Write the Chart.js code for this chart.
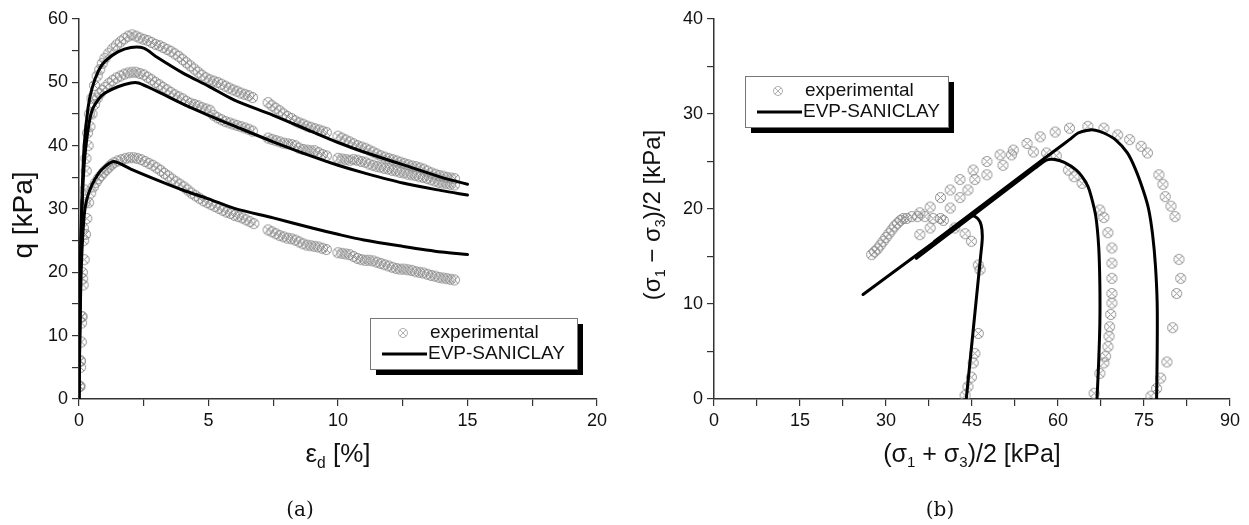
<!DOCTYPE html>
<html>
<head>
<meta charset="utf-8">
<script src="https://cdn.jsdelivr.net/npm/chart.js"></script>
<style>
html, body { margin: 0; padding: 0; background: #fff; }
#wrap { position: relative; width: 1249px; height: 525px; }
#left { position: absolute; left: 0; top: 0; }
#right { position: absolute; left: 625px; top: 0; }
</style>
</head>
<body>
<div id="wrap">
  <canvas id="left" width="625" height="525"></canvas>
  <canvas id="right" width="624" height="525"></canvas>
</div>
<script>
// (a) q vs eps_d : experimental points [eps, q]
const expTop = [[0.02,2],[0.05,6],[0.1,13],[0.13,20],[0.17,27],[0.22,33],[0.27,38],[0.33,42],[0.4,45],[0.5,47.5],[0.6,49.5],[0.7,51],[0.8,52],[0.9,53],[1.0,53.8],[1.15,54.6],[1.3,55.3],[1.45,55.9],[1.6,56.4],[1.75,56.9],[1.9,57.3],[2.05,57.5],[2.2,57.3],[2.35,57.0],[2.5,56.8],[2.65,56.6],[2.8,56.3],[2.95,56.0],[3.1,55.8],[3.25,55.5],[3.4,55.2],[3.55,54.9],[3.7,54.5],[3.85,54.1],[4.0,53.6],[4.15,53.1],[4.3,52.6],[4.45,52.1],[4.6,51.6],[4.75,51.1],[4.9,50.7],[5.05,50.4],[5.2,50.2],[5.35,50.0],[5.5,49.7],[5.65,49.4],[5.8,49.1],[5.95,48.8],[6.1,48.6],[6.25,48.3],[6.4,48.1],[6.55,47.9],[6.7,47.6],[7.3,46.8],[7.45,46.3],[7.6,45.9],[7.75,45.5],[7.9,45.0],[8.05,44.6],[8.2,44.3],[8.35,43.9],[8.5,43.6],[8.65,43.4],[8.8,43.1],[8.95,42.9],[9.1,42.7],[9.25,42.5],[9.4,42.3],[9.55,42.1],[10.0,41.5],[10.15,41.2],[10.3,40.9],[10.45,40.6],[10.6,40.3],[10.75,40.0],[10.9,39.8],[11.05,39.6],[11.2,39.3],[11.35,39.0],[11.5,38.7],[11.65,38.4],[11.8,38.2],[11.95,38.0],[12.1,37.8],[12.25,37.6],[12.4,37.4],[12.55,37.2],[12.7,37.0],[12.85,36.8],[13.0,36.7],[13.15,36.5],[13.3,36.3],[13.45,36.0],[13.6,35.7],[13.75,35.5],[13.9,35.3],[14.05,35.2],[14.2,35.0],[14.35,34.9],[14.5,34.8]];
const expMid = [[0.03,2],[0.06,6],[0.1,12],[0.14,19],[0.18,25],[0.23,31],[0.28,36],[0.35,40],[0.42,43],[0.5,45],[0.6,46.5],[0.7,47.5],[0.8,48.2],[0.9,48.7],[1.0,49.2],[1.15,49.8],[1.3,50.3],[1.45,50.7],[1.6,51.0],[1.75,51.3],[1.9,51.5],[2.05,51.6],[2.2,51.6],[2.35,51.4],[2.5,51.2],[2.65,50.8],[2.8,50.4],[2.95,50.0],[3.1,49.6],[3.25,49.2],[3.4,48.8],[3.55,48.4],[3.7,48.0],[3.85,47.7],[4.0,47.4],[4.15,47.0],[4.3,46.7],[4.45,46.5],[4.6,46.3],[4.75,46.0],[4.9,45.8],[5.05,45.6],[5.2,44.8],[5.35,44.4],[5.5,44.1],[5.65,43.8],[5.8,43.6],[5.95,43.4],[6.1,43.2],[6.25,43.0],[6.4,42.8],[6.55,42.6],[6.7,42.3],[7.3,41.2],[7.45,41.0],[7.6,40.8],[7.75,40.6],[7.9,40.4],[8.05,40.3],[8.2,40.2],[8.35,40.0],[8.5,39.6],[8.65,39.4],[8.8,39.3],[8.95,39.2],[9.1,39.2],[9.25,38.9],[9.4,38.6],[9.55,38.4],[10.0,38.0],[10.15,37.9],[10.3,37.8],[10.45,37.7],[10.6,37.8],[10.75,37.7],[10.9,37.5],[11.05,37.4],[11.2,37.1],[11.35,36.9],[11.5,36.7],[11.65,36.6],[11.8,36.4],[11.95,36.3],[12.1,36.1],[12.25,36.0],[12.4,35.8],[12.55,35.7],[12.7,35.5],[12.85,35.4],[13.0,35.3],[13.15,35.1],[13.3,35.0],[13.45,34.8],[13.6,34.6],[13.75,34.4],[13.9,34.2],[14.05,34.1],[14.2,34.0],[14.35,33.9],[14.5,33.8]];
const expLow = [[0.03,2],[0.06,5],[0.09,9],[0.12,13],[0.16,18],[0.2,22],[0.25,26],[0.3,28.5],[0.37,31],[0.45,32.5],[0.55,33.5],[0.65,34.2],[0.75,34.8],[0.85,35.3],[0.95,35.8],[1.05,36.2],[1.15,36.6],[1.25,37.0],[1.35,37.3],[1.5,37.6],[1.65,37.8],[1.8,38.0],[1.95,38.1],[2.1,38.1],[2.25,38.0],[2.4,37.8],[2.55,37.5],[2.7,37.2],[2.85,36.9],[3.0,36.5],[3.15,36.1],[3.3,35.6],[3.45,35.2],[3.6,34.7],[3.75,34.3],[3.9,33.9],[4.05,33.5],[4.2,33.0],[4.35,32.5],[4.5,32.1],[4.65,31.7],[4.8,31.3],[4.95,31.0],[5.1,30.7],[5.25,30.4],[5.4,30.1],[5.55,29.8],[5.7,29.5],[5.85,29.3],[6.0,29.0],[6.15,28.8],[6.3,28.6],[6.45,28.3],[6.6,28.0],[6.75,27.7],[7.3,26.7],[7.45,26.4],[7.6,26.1],[7.75,25.8],[7.9,25.6],[8.05,25.4],[8.2,25.3],[8.35,25.1],[8.5,24.8],[8.65,24.5],[8.8,24.3],[8.95,24.2],[9.1,24.1],[9.25,24.0],[9.4,23.8],[9.55,23.6],[10.0,23.1],[10.15,23.0],[10.3,22.9],[10.45,22.8],[10.6,22.5],[10.75,22.2],[10.9,22.0],[11.05,21.9],[11.2,21.9],[11.35,21.8],[11.5,21.6],[11.65,21.4],[11.8,21.2],[11.95,21.0],[12.1,20.8],[12.25,20.6],[12.4,20.5],[12.55,20.5],[12.7,20.4],[12.85,20.3],[13.0,20.1],[13.15,20.0],[13.3,19.9],[13.45,19.7],[13.6,19.5],[13.75,19.4],[13.9,19.2],[14.05,19.1],[14.2,19.0],[14.35,18.9],[14.5,18.8]];

// (a) EVP-SANICLAY curves [eps, q]
const modTop = [[0,0],[0.05,20],[0.1,30],[0.2,40],[0.35,46],[0.5,49],[0.75,51.8],[1,53.3],[1.5,54.8],[2,55.5],[2.5,55.4],[3,54],[4,51.5],[5,49.4],[6,47.2],[7.5,44.8],[9,42.2],[10,40.5],[11,39],[12.5,37],[14,35],[15,33.9]];
const modMid = [[0,0],[0.05,18],[0.1,28],[0.2,37],[0.35,42.5],[0.5,45.5],[0.75,47.3],[1,48.3],[1.5,49.3],[2,49.9],[2.3,49.9],[3,48.6],[4,46.6],[5,44.8],[6,43.1],[7.5,40.6],[9,38.3],[10,36.9],[11,35.7],[12.5,34.1],[14,32.9],[15,32.2]];
const modLow = [[0,0],[0.05,14],[0.1,22],[0.2,29],[0.3,31.5],[0.5,33.8],[0.75,35.6],[1,36.7],[1.35,37.5],[2,36.3],[3,34.6],[4,33],[5,31.6],[6,30.1],[7.5,28.6],[9,27],[10,26],[11,25.1],[12.5,24.1],[14,23.2],[15,22.8]];

// (b) stress paths [p, t] experimental
const pathExpA = [[43.8,0.4],[44.3,1.3],[44.9,2.3],[45.2,3.8],[45.5,4.8],[46.1,6.9],[46.1,14.1],[46.4,13.6],[44.9,16.6],[43.8,17.4],[42.0,18.0],[40.0,18.8],[38.2,19.0],[36.8,19.2],[35.5,19.2],[34.5,19.2],[33.6,19.0],[33.0,19.0],[32.5,18.8],[32.0,18.5],[31.5,18.2],[31.0,17.8],[30.5,17.4],[30.0,17.0],[29.5,16.6],[29.0,16.2],[28.5,15.8],[28.0,15.5],[27.5,15.2]];
const pathExpB = [[66.3,0.6],[67.3,2.7],[68.0,3.8],[68.3,4.5],[68.7,5.5],[68.9,6.6],[69.0,7.6],[69.2,8.9],[69.4,10.1],[69.4,11.1],[69.4,12.7],[69.4,14.3],[69.4,15.9],[68.7,17.5],[68.0,19.1],[67.3,19.9],[64.2,22.7],[62.8,23.4],[61.8,24.1],[59.7,25.6],[58.0,25.9],[55.7,26.0],[51.9,25.7],[50.4,24.6],[47.6,23.6],[45.5,23.1],[44.3,22.0],[42.9,21.2],[41.2,20.1],[39.5,19.0],[37.7,18.0],[35.9,17.3]];
const pathExpC = [[76.2,0.3],[77.2,1.1],[77.9,2.2],[79.0,3.9],[80.0,7.5],[80.7,11.1],[81.4,12.7],[81.1,14.7],[80.4,19.2],[79.7,20.3],[78.7,21.3],[78.3,22.6],[77.6,23.6],[75.6,25.9],[74.5,26.6],[72.5,27.3],[70.4,27.8],[68.0,28.5],[65.2,28.7],[62.0,28.5],[59.5,28.1],[56.9,27.6],[54.6,26.9],[52.2,26.2],[49.9,25.7],[47.6,25.0],[45.2,24.1],[42.9,23.1],[41.2,22.0],[39.5,21.2],[37.7,20.2],[35.9,19.6]];

// (b) EVP-SANICLAY stress paths
const pathModA = [[44.0,0],[44.5,3],[45.0,6],[45.5,9],[46.0,12],[46.5,15],[46.8,17],[46.6,18.3],[46.0,19.0],[45.0,19.3],[44.0,19.0],[26.0,11.0]];
const pathModB = [[66.8,0],[67.1,4],[67.3,8],[67.3,12],[67.1,16],[66.6,19.2],[65.8,21.3],[65.2,22.4],[64.2,23.4],[63.2,24.1],[61.1,24.9],[59.5,25.2],[58.3,25.2],[57.3,24.9],[56.0,24.3],[35.3,14.8]];
const pathModC = [[77.2,0],[77.3,5],[77.3,10],[77.0,14],[76.5,17.3],[75.8,20.0],[74.9,21.9],[73.5,24.2],[72.1,25.9],[70.0,27.3],[68.0,28.0],[66.5,28.3],[65.2,28.3],[63.5,28.0],[62.0,27.3],[60.0,26.4],[58.0,25.5],[38.5,16.6]];

const FONT = '"Liberation Sans", Arial, sans-serif';
const GREY = '#8e8e8e';

// circle with a cross, used as point style
function makeMarker(r, color) {
    const c = document.createElement('canvas');
    const s = Math.ceil(r * 2 + 3);
    c.width = s; c.height = s;
    const g = c.getContext('2d');
    const m = s / 2;
    g.strokeStyle = color;
    g.lineWidth = 1;
    g.beginPath();
    g.arc(m, m, r, 0, Math.PI * 2);
    g.stroke();
    const d = r * 0.7;
    g.beginPath();
    g.moveTo(m - d, m - d); g.lineTo(m + d, m + d);
    g.moveTo(m + d, m - d); g.lineTo(m - d, m + d);
    g.stroke();
    return c;
}
const marker = makeMarker(5, GREY);
const markerSmall = makeMarker(4.5, '#b0b0b0');

const pts = arr => arr.map(p => ({ x: p[0], y: p[1] }));

function expSet(arr) {
    return {
        data: pts(arr), showLine: false, pointStyle: marker,
        pointRadius: 5, pointHoverRadius: 5, order: 2
    };
}
function modSet(arr) {
    return {
        data: pts(arr), showLine: true, borderColor: '#000', borderWidth: 3,
        pointRadius: 0, tension: 0.3, order: 1, borderJoinStyle: 'round', borderCapStyle: 'round'
    };
}

// text with subscripts
function drawRich(ctx, parts, x, y, size, rotate) {
    ctx.save();
    ctx.translate(x, y);
    if (rotate) ctx.rotate(-Math.PI / 2);
    let total = 0;
    parts.forEach(p => {
        ctx.font = (p.sub ? size * 0.6 : size) + 'px ' + FONT;
        total += ctx.measureText(p.t).width;
    });
    let cx = -total / 2;
    ctx.textBaseline = 'middle';
    ctx.textAlign = 'left';
    ctx.fillStyle = '#111';
    parts.forEach(p => {
        const s = p.sub ? size * 0.6 : size;
        ctx.font = s + 'px ' + FONT;
        ctx.fillText(p.t, cx, p.sub ? size * 0.32 : 0);
        cx += ctx.measureText(p.t).width;
    });
    ctx.restore();
}

const decor = {
    id: 'decor',
    afterDraw(chart, args, o) {
        const ctx = chart.ctx;
        const a = chart.chartArea;
        drawRich(ctx, o.xTitle, (a.left + a.right) / 2, 455, o.xSize, false);
        drawRich(ctx, o.yTitle, o.yTitleX, (a.top + a.bottom) / 2 + 6, o.ySize, true);
        // caption
        ctx.save();
        ctx.font = '20px "DejaVu Serif", "Liberation Serif", serif';
        ctx.fillStyle = '#111';
        ctx.textAlign = 'center';
        ctx.textBaseline = 'middle';
        ctx.fillText(o.caption, o.captionX, 511);
        ctx.restore();
        // legend box with shadow
        const L = o.legend;
        ctx.save();
        ctx.fillStyle = '#000';
        ctx.fillRect(L.x + 6, L.y + 6, L.w, L.h);
        ctx.fillStyle = '#fff';
        ctx.fillRect(L.x, L.y, L.w, L.h);
        ctx.strokeStyle = '#777';
        ctx.lineWidth = 1;
        ctx.strokeRect(L.x + 0.5, L.y + 0.5, L.w, L.h);
        const r1 = L.y + 15, r2 = L.y + 36;
        ctx.drawImage(markerSmall, L.x + 33 - markerSmall.width / 2, r1 - markerSmall.height / 2);
        ctx.strokeStyle = '#000';
        ctx.lineWidth = 3;
        ctx.beginPath();
        ctx.moveTo(L.x + 12, r2); ctx.lineTo(L.x + 57, r2);
        ctx.stroke();
        ctx.fillStyle = '#111';
        ctx.font = '19px ' + FONT;
        ctx.textBaseline = 'middle';
        ctx.fillText('experimental', L.x + 60, r1);
        ctx.fillText('EVP-SANICLAY', L.x + 58, r2);
        ctx.restore();
    }
};

function axis(min, max, step, every, fitKey, fitVal) {
    return {
        type: 'linear', min, max,
        ticks: {
            stepSize: step, autoSkip: false, maxRotation: 0,
            color: '#111', font: { family: FONT, size: 18 }, padding: 4,
            callback: v => (Math.abs(v / every - Math.round(v / every)) < 1e-6 ? v : '')
        },
        grid: { drawOnChartArea: false, drawTicks: true, tickLength: 7, color: '#333', lineWidth: 1.2 },
        border: { display: true, color: '#333', width: 1.5 },
        afterFit: s => { s[fitKey] = fitVal; }
    };
}

function makeChart(id, sets, xa, ya, decorOpts, padRight) {
    new Chart(document.getElementById(id), {
        type: 'scatter',
        data: { datasets: sets },
        options: {
            responsive: false, animation: false,
            layout: { padding: { top: 19, right: padRight, left: 0, bottom: 0 } },
            scales: { x: xa, y: ya },
            plugins: { legend: { display: false }, tooltip: { enabled: false }, decor: decorOpts }
        },
        plugins: [decor]
    });
}

makeChart('left',
    [expSet(expTop), expSet(expMid), expSet(expLow), modSet(modTop), modSet(modMid), modSet(modLow)],
    axis(0, 20, 2.5, 5, 'height', 126),
    axis(0, 60, 5, 10, 'width', 79),
    {
        xTitle: [{ t: 'ε' }, { t: 'd', sub: true }, { t: ' [%]' }],
        yTitle: [{ t: 'q [kPa]' }],
        yTitleX: 24, xSize: 26, ySize: 28,
        caption: '(a)', captionX: 300,
        legend: { x: 370, y: 318, w: 207, h: 51 }
    }, 28);

makeChart('right',
    [expSet(pathExpA), expSet(pathExpB), expSet(pathExpC), modSet(pathModA), modSet(pathModB), modSet(pathModC)],
    axis(0, 90, 7.5, 15, 'height', 126),
    axis(0, 40, 5, 10, 'width', 89),
    {
        xTitle: [{ t: '(σ' }, { t: '1', sub: true }, { t: ' + σ' }, { t: '3', sub: true }, { t: ')/2 [kPa]' }],
        yTitle: [{ t: '(σ' }, { t: '1', sub: true }, { t: ' − σ' }, { t: '3', sub: true }, { t: ')/2 [kPa]' }],
        yTitleX: 28, xSize: 25, ySize: 24,
        caption: '(b)', captionX: 315,
        legend: { x: 120, y: 76, w: 203, h: 51 }
    }, 19);
</script>
</body>
</html>
